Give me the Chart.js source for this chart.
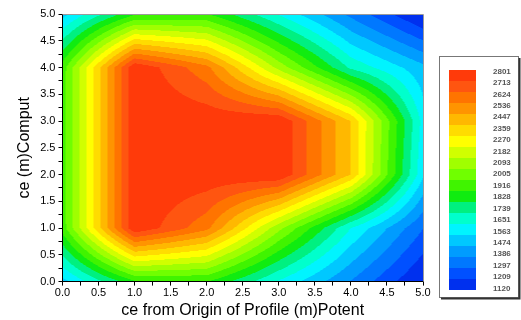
<!DOCTYPE html>
<html>
<head>
<meta charset="utf-8">
<script src="https://cdn.jsdelivr.net/npm/chart.js@4.4.0/dist/chart.umd.min.js"></script>
<style>
  html, body { margin: 0; padding: 0; background: #fff; }
</style>
</head>
<body>
<canvas id="contourChart" width="521" height="320"></canvas>
<script>
// grid nodes of the gridded surface
const xNodes = [0, 1, 2, 3, 4, 5];
const yNodes = [0, 1, 2, 3, 4, 5];
// z at each node, one row per y node, bottom (y = 0) to top (y = 5)
const zRow0 = [1530, 1900, 1920, 1640, 1380, 1110];
const zRow1 = [1960, 2880, 2650, 2120, 1650, 1300];
const zRow2 = [1965, 2885, 2870, 2884, 2444, 1580];
const zRow3 = [1965, 2885, 2870, 2884, 2444, 1620];
const zRow4 = [1960, 2880, 2650, 2150, 1720, 1500];
const zRow5 = [1530, 1900, 1920, 1640, 1360, 1100];
const zRows = [zRow0, zRow1, zRow2, zRow3, zRow4, zRow5];

// contour levels (legend labels), low to high
const levels = [1120, 1209, 1297, 1386, 1474, 1563, 1651, 1739, 1828, 1916,
                2005, 2093, 2182, 2270, 2359, 2447, 2536, 2624, 2713, 2801];
const levelColors = [
  '#0030ee', '#0050ff', '#0078ff', '#009cff', '#00c8ff',
  '#00f4ff', '#00ffcc', '#00f080', '#10ec10', '#40f400',
  '#70ff00', '#a0ff00', '#d0ff00', '#ffff00', '#ffdc00',
  '#ffb800', '#ff9400', '#ff7400', '#ff5510', '#ff3a0a'
];

const rgbColors = levelColors.map(h => [parseInt(h.slice(1, 3), 16), parseInt(h.slice(3, 5), 16), parseInt(h.slice(5, 7), 16)]);

function nodeIndex(nodes, v) {
  let i = 0;
  while (i < nodes.length - 2 && v > nodes[i + 1]) i++;
  return i;
}

function zAt(xv, yv) {
  const i = nodeIndex(xNodes, xv), j = nodeIndex(yNodes, yv);
  const tx = Math.min(1, Math.max(0, (xv - xNodes[i]) / (xNodes[i + 1] - xNodes[i])));
  const ty = Math.min(1, Math.max(0, (yv - yNodes[j]) / (yNodes[j + 1] - yNodes[j])));
  const z00 = zRows[j][i], z10 = zRows[j][i + 1], z01 = zRows[j + 1][i], z11 = zRows[j + 1][i + 1];
  return z00 * (1 - tx) * (1 - ty) + z10 * tx * (1 - ty) + z01 * (1 - tx) * ty + z11 * tx * ty;
}

function bandOf(z) {
  let k = 0;
  for (let i = 0; i < levels.length; i++) if (z >= levels[i]) k = i;
  return k;
}

const contourFill = {
  id: 'contourFill',
  beforeDraw(chart) {
    const { ctx, chartArea: a, scales: { x, y } } = chart;
    const w = Math.round(a.right - a.left), h = Math.round(a.bottom - a.top);
    const off = document.createElement('canvas');
    off.width = w; off.height = h;
    const octx = off.getContext('2d');
    const img = octx.createImageData(w, h);
    for (let r = 0; r < h; r++) {
      const yv = y.getValueForPixel(a.top + r + 0.5);
      for (let c = 0; c < w; c++) {
        const xv = x.getValueForPixel(a.left + c + 0.5);
        const col = rgbColors[bandOf(zAt(xv, yv))];
        const p = (r * w + c) * 4;
        img.data[p] = col[0]; img.data[p + 1] = col[1]; img.data[p + 2] = col[2]; img.data[p + 3] = 255;
      }
    }
    octx.putImageData(img, 0, 0);
    ctx.drawImage(off, a.left, a.top);
  },
  afterDraw(chart) {
    const { ctx, chartArea: a } = chart;
    ctx.save();
    // thin frame on top and right of plot
    ctx.strokeStyle = '#9a9a9a';
    ctx.lineWidth = 1;
    ctx.beginPath();
    ctx.moveTo(a.left, a.top + 0.5); ctx.lineTo(a.right + 0.5, a.top + 0.5); ctx.lineTo(a.right + 0.5, a.bottom);
    ctx.stroke();

    // colour legend box
    const bx = 439, by = 56, bw = 79, bh = 241;
    ctx.fillStyle = '#fff';
    ctx.fillRect(bx, by, bw, bh);
    ctx.strokeStyle = '#777';
    ctx.strokeRect(bx + 0.5, by + 0.5, bw, bh);
    ctx.strokeStyle = '#333';
    ctx.lineWidth = 2;
    ctx.beginPath();
    ctx.moveTo(bx + bw + 1.5, by + 2); ctx.lineTo(bx + bw + 1.5, by + bh + 1.5); ctx.lineTo(bx + 2, by + bh + 1.5);
    ctx.stroke();

    const barX = 449, barW = 27, barTop = 70, bandH = 11;
    const n = levels.length;
    for (let i = 0; i < n; i++) {
      ctx.fillStyle = levelColors[n - 1 - i];
      ctx.fillRect(barX, barTop + i * bandH, barW, bandH);
    }
    ctx.fillStyle = '#555';
    ctx.font = 'bold 8px "Liberation Sans", Arial, sans-serif';
    ctx.textBaseline = 'middle';
    ctx.textAlign = 'left';
    for (let i = 0; i < n; i++) {
      ctx.fillText(String(levels[n - 1 - i]), 493, 71.5 + i * (217 / 19));
    }
    ctx.restore();
  }
};

const gridPoints = [];
yNodes.forEach((yv, j) => xNodes.forEach((xv, i) => gridPoints.push({ x: xv, y: yv, z: zRows[j][i] })));

const tickFont = { family: '"Liberation Sans", Arial, sans-serif', size: 11 };
const titleFont = { family: '"Liberation Sans", Arial, sans-serif', size: 16 };
const quarterTicks = s => { s.ticks = []; for (let v = 0; v <= 20; v++) s.ticks.push({ value: v * 0.25 }); };
const halfLabel = v => (Math.abs(v * 2 - Math.round(v * 2)) < 1e-6 ? v.toFixed(1) : '');

new Chart(document.getElementById('contourChart'), {
  type: 'scatter',
  data: {
    datasets: [{ label: 'nodes', data: gridPoints, pointRadius: 0, showLine: false }]
  },
  options: {
    responsive: false,
    animation: false,
    layout: { padding: { top: 14, right: 98, bottom: 0, left: 15 } },
    plugins: { legend: { display: false }, tooltip: { enabled: false } },
    scales: {
      x: {
        type: 'linear', min: 0, max: 5,
        afterBuildTicks: quarterTicks,
        ticks: { color: '#000', font: tickFont, padding: 1, maxRotation: 0, autoSkip: false, callback: halfLabel },
        grid: { drawOnChartArea: false, tickLength: 4, color: '#000' },
        border: { color: '#000', width: 1 },
        title: { display: true, text: 'ce from Origin of Profile (m)Potent', color: '#000', font: titleFont, padding: { top: 0, bottom: 0 } }
      },
      y: {
        type: 'linear', min: 0, max: 5,
        afterBuildTicks: quarterTicks,
        ticks: { color: '#000', font: tickFont, padding: 3, autoSkip: false, callback: halfLabel },
        grid: { drawOnChartArea: false, tickLength: 4, color: '#000' },
        border: { color: '#000', width: 1 },
        title: { display: true, text: 'ce (m)Comput', color: '#000', font: titleFont, padding: { top: 0, bottom: 3 } }
      }
    }
  },
  plugins: [contourFill]
});
</script>
</body>
</html>
